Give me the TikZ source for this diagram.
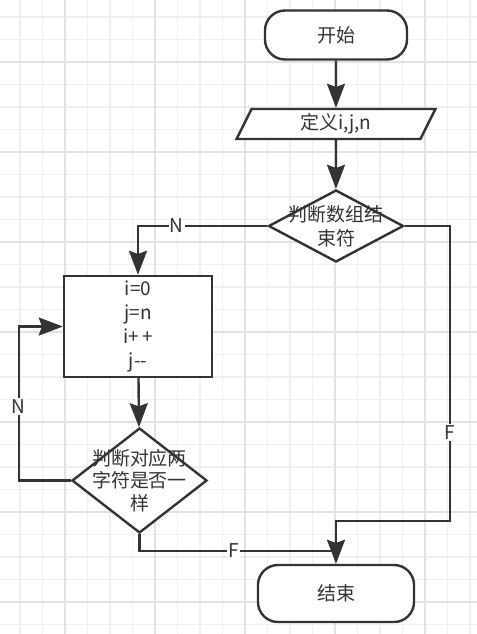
\documentclass[tikz,border=0pt]{standalone}
\usepackage{fontspec}
\setmainfont{Noto Sans CJK SC}
\usetikzlibrary{shapes.geometric,arrows.meta}
\definecolor{ink}{HTML}{333333}
\definecolor{gridlo}{HTML}{EFEFEF}
\definecolor{gridhi}{HTML}{E2E2E2}

\begin{document}
\begin{tikzpicture}[x=0.025cm, y=-0.025cm,
    box/.style={draw=ink, line width=1.7pt, fill=white, inner sep=0pt, text=ink,
      font=\fontsize{13.5}{17}\selectfont, align=center},
    term/.style={box, rounded corners=0.5cm},
    decide/.style={box, diamond},
    io/.style={box, trapezium, trapezium left angle=73, trapezium right angle=107,
      trapezium stretches=true},
    words/.style={text=ink, font=\fontsize{13.5}{17}\selectfont, align=center},
    lab/.style={fill=white, inner sep=1pt, text=ink, font=\fontsize{13.5}{16}\selectfont},
    line/.style={draw=ink, line width=1.7pt},
    arr/.style={line, -{Stealth[length=0.6cm, width=0.45cm, inset=0.08cm]}}]
    \useasboundingbox (0,0) rectangle (477,634);
    \fill[white] (0,0) rectangle (477,634);
    % grid paper
    \foreach \k in {0,...,20}
        \draw[gridlo, line width=0.9pt] ({20+22.5*\k},0) -- ({20+22.5*\k},634);
    \foreach \k in {0,...,27}
        \draw[gridlo, line width=0.9pt] (0,{17+22.5*\k}) -- (477,{17+22.5*\k});
    \foreach \k in {2,6,...,18}
        \draw[gridhi, line width=0.9pt] ({20+22.5*\k},0) -- ({20+22.5*\k},634);
    \foreach \k in {2,6,...,26}
        \draw[gridhi, line width=0.9pt] (0,{17+22.5*\k}) -- (477,{17+22.5*\k});

    \node[term, minimum width=3.55cm, minimum height=1.225cm] (start) at (336,35) {开始};
    \node[io, minimum width=5cm, minimum height=0.75cm] (def) at (336,124) {定义i,j,n};
    \node[decide, minimum width=3.375cm, minimum height=1.8cm] (j1) at (336,226) {};
    \node[words] at (j1) {判断数组结\\束符};
    \node[box, minimum width=3.7cm, minimum height=2.525cm] (loop) at (138,326.5)
        {i=0\\j=n\\i+\,+\\j-{}-};
    \node[decide, minimum width=3.375cm, minimum height=2.625cm] (j2) at (139.5,480.5) {};
    \node[words, font=\fontsize{13.5}{16}\selectfont] at (j2) {判断对应两\\字符是否一\\样};
    \node[term, minimum width=3.9cm, minimum height=1.425cm] (end) at (336,593.5) {结束};
    \coordinate (fm) at (336,551);

    \draw[arr] (start) -- (def);
    \draw[arr] (def) -- (j1);
    \draw[arr] (j1.west) -| node[lab, pos=0.35] {N} (loop.north);
    \draw[arr] (loop) -- (j2);
    \draw[arr] (j2.west) -- ++(-52,0) |- node[lab, pos=0.24] {N} (loop.west);
    \draw[line] (j2.south) |- node[lab, pos=0.74] {F} (fm);
    \draw[arr] (j1.east) -| node[lab, pos=0.85] {F} ++(45,295) -| (end.north);
\end{tikzpicture}
\end{document}
